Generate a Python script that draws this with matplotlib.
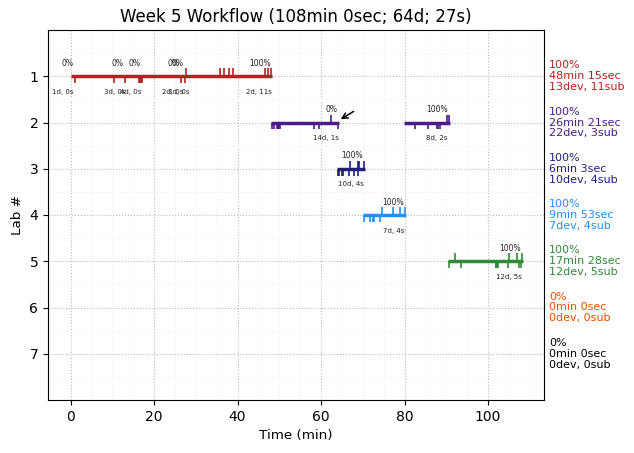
import matplotlib
matplotlib.use("Agg")
import matplotlib.pyplot as plt

labs = [1, 2, 3, 4, 5, 6, 7]
colors = ["firebrick", "#4b1a8c", "#1f1f80", "dodgerblue", "#2e8b37", "#e65100", "black"]

# work segments per lab (start, end) in minutes
segments = [
    [(0, 48.25)],
    [(47.9, 64.4), (79.8, 90.9)],
    [(63.8, 70.6)],
    [(70, 80.4)],
    [(90.4, 108.3)],
    [],
    [],
]

# submissions point up, development events point down
subs = [
    [27.6, 35.8, 36.8, 38, 38.8, 46.5, 47.2, 48.1],
    [62.3, 90.2, 90.6],
    [66.9, 68.8, 69.2, 70.3],
    [74.6, 77.2, 78.9, 80.1],
    [92, 105, 106.9, 108.1],
    [],
    [],
]
devs = [
    [1, 10.4, 13, 16.5, 16.7, 16.9, 17.1, 26.4, 27.4],
    [48.2, 48.8, 49.4, 49.6, 49.8, 50, 50.2, 58.4, 59.5, 64.1, 82.6, 85.6, 87.7, 88, 88.6],
    [64.1, 64.3, 65, 65.2, 66.7, 67.9, 68.8],
    [70.3, 71.7, 72.5, 72.8, 74],
    [90.6, 93.5, 101.8, 102, 102.2, 102.4, 104.7, 107.4, 107.8],
    [],
    [],
]

# text above and below the lines: (x, lab, text)
pct_labels = [
    (-0.7, 1, "0%"), (11.3, 1, "0%"), (15.3, 1, "0%"), (24.7, 1, "0%"), (25.6, 1, "0%"), (45.4, 1, "100%"),
    (62.5, 2, "0%"), (87.7, 2, "100%"), (67.4, 3, "100%"), (77.2, 4, "100%"), (105.3, 5, "100%"),
]
count_labels = [
    (-1.75, 1, "1d, 0s"), (10.6, 1, "3d, 0s"), (14.3, 1, "4d, 0s"), (24.5, 1, "2d, 0s"), (26, 1, "3d, 0s"),
    (45.2, 1, "2d, 11s"), (61.1, 2, "14d, 1s"), (87.7, 2, "8d, 2s"), (67.1, 3, "10d, 4s"),
    (77.5, 4, "7d, 4s"), (104.9, 5, "12d, 5s"),
]

side_labels = [
    "100%\n48min 15sec\n13dev, 11sub",
    "100%\n26min 21sec\n22dev, 3sub",
    "100%\n6min 3sec\n10dev, 4sub",
    "100%\n9min 53sec\n7dev, 4sub",
    "100%\n17min 28sec\n12dev, 5sub",
    "0%\n0min 0sec\n0dev, 0sub",
    "0%\n0min 0sec\n0dev, 0sub",
]

fig = plt.figure(figsize=(6.34, 4.53), dpi=100)
ax = fig.add_axes([48 / 634, 1 - 400 / 453, 496 / 634, 370 / 453])

for i, lab in enumerate(labs):
    c = colors[i]
    for s in segments[i]:
        ax.plot(s, [lab, lab], color=c, lw=2.5, solid_capstyle="butt", zorder=3)
    ax.vlines(subs[i], lab - 0.17, lab, color=c, lw=1.2, zorder=3)
    ax.vlines(devs[i], lab, lab + 0.15, color=c, lw=1.2, zorder=3)
    ax.text(114.6, lab, side_labels[i], color=c, fontsize=8, va="center", ha="left", linespacing=1.12)

for x, y, t in pct_labels:
    ax.text(x, y - 0.28, t, fontsize=5.5, ha="center", va="center", color="#222222")
for x, y, t in count_labels:
    ax.text(x, y + 0.34, t, fontsize=5, ha="center", va="center", color="#222222")

ax.annotate("", xy=(64.7, 1.93), xytext=(67.8, 1.76),
            arrowprops=dict(arrowstyle="->", color="black", lw=1.1, shrinkA=0, shrinkB=0, mutation_scale=10))

ax.set_xlim(-5.4, 113.4)
ax.set_ylim(8, 0)
ax.set_xticks([0, 20, 40, 60, 80, 100])
ax.set_xticks(range(-5, 115, 5), minor=True)
ax.set_yticks(labs)
ax.set_yticks([i / 2 for i in range(1, 16)], minor=True)
ax.tick_params(which="minor", length=0)
ax.grid(which="major", ls=":", color="#bbbbbb", lw=0.8)
ax.grid(which="minor", ls="-", color="#f7f7f7", lw=0.6)
ax.set_axisbelow(True)
ax.set_xlabel("Time (min)", fontsize=9.7)
ax.set_ylabel("Lab #", fontsize=9.7)
ax.set_title("Week 5 Workflow (108min 0sec; 64d; 27s)", fontsize=12)

plt.savefig("out.png", dpi=100)
